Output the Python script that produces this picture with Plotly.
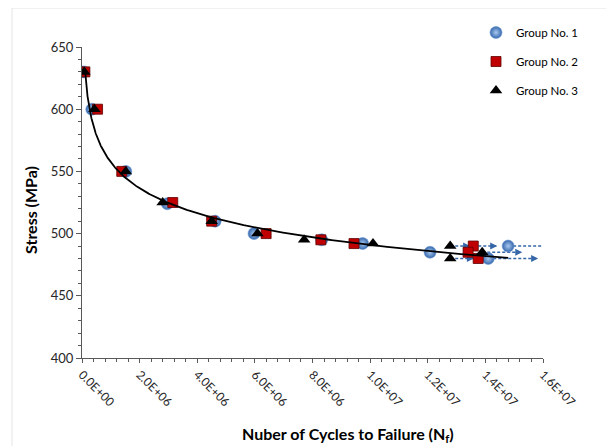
import numpy as np
import plotly.graph_objects as go

# ---------------- data ----------------
# Group No. 1 (failures)
g1_cycles = [0.06e6, 0.34e6, 1.52e6, 2.96e6, 4.62e6, 5.97e6, 8.32e6, 9.74e6, 12.08e6]
g1_stress = [630, 600, 550, 524, 510, 500, 495, 492, 485]
# Group No. 1 (run-outs)
g1_run_cycles = [14.79e6, 14.10e6]
g1_run_stress = [490, 480]
g1_run_end = [16.25e6, 15.83e6]

# Group No. 2 (failures)
g2_cycles = [0.10e6, 0.54e6, 1.38e6, 3.15e6, 4.50e6, 6.39e6, 8.29e6, 9.44e6]
g2_stress = [630, 600, 550, 525, 510, 500, 495, 492]
# Group No. 2 (run-outs)
g2_run_cycles = [13.58e6, 13.40e6, 13.75e6]
g2_run_stress = [490, 485, 480]
g2_run_end = [14.41e6, 13.40e6, 13.75e6]

# Group No. 3 (failures)
g3_cycles = [0.08e6, 0.43e6, 1.52e6, 2.80e6, 4.50e6, 6.09e6, 7.71e6, 10.10e6]
g3_stress = [630, 600, 550, 525, 510, 500, 495, 492]
# Group No. 3 (run-outs)
g3_run_cycles = [12.78e6, 13.89e6, 12.78e6]
g3_run_stress = [490, 485, 480]
g3_run_end = [13.47e6, 15.28e6, 13.60e6]

x_tick_vals = [0, 2e6, 4e6, 6e6, 8e6, 10e6, 12e6, 14e6, 16e6]
x_tick_text = ["0.0E+00", "2.0E+06", "4.0E+06", "6.0E+06", "8.0E+06",
               "1.0E+07", "1.2E+07", "1.4E+07", "1.6E+07"]
y_tick_vals = [400, 450, 500, 550, 600, 650]

# ---------------- power-law trendline fitted to the failure data ----------------
fail_n = np.array(g1_cycles + g2_cycles + g3_cycles)
fail_s = np.array(g1_stress + g2_stress + g3_stress)
all_n = np.array(g1_cycles + g2_cycles + g3_cycles + g1_run_cycles + g2_run_cycles + g3_run_cycles)
b, lnA = np.polyfit(np.log(fail_n), np.log(fail_s), 1)
fit_start = max(min(g1_cycles), min(g2_cycles), min(g3_cycles))
fit_n = np.geomspace(fit_start, all_n.max(), 300)
fit_s = np.exp(lnA) * fit_n ** b

# ---------------- page geometry (page has an 8px body margin) ----------------
OFF = 8
W, H = 614 - OFF, 446 - OFF
PL, PR, PT, PB = 82, 543, 47, 358          # plot area in window pixels
pw, ph = PR - PL, PB - PT


def px(xw):
    return (xw - PL) / pw


def py(yw):
    return (PB - yw) / ph


fig = go.Figure()

# run-out arrows (dashed lines + arrow heads)
arrow_color = "#3566a8"
ax_list, ay_list, hx, hy = [], [], [], []
for xs, ys, xe in [(g1_run_cycles, g1_run_stress, g1_run_end),
                   (g2_run_cycles, g2_run_stress, g2_run_end),
                   (g3_run_cycles, g3_run_stress, g3_run_end)]:
    for x0, y0, x1 in zip(xs, ys, xe):
        if x1 <= x0:
            continue
        ax_list += [x0, x1, None]
        ay_list += [y0, y0, None]
        hx.append(x1)
        hy.append(y0)

fig.add_trace(go.Scatter(x=ax_list, y=ay_list, mode="lines",
                         line=dict(color=arrow_color, width=1.4, dash="3px,2px"),
                         showlegend=False, hoverinfo="skip"))
fig.add_trace(go.Scatter(x=hx, y=hy, mode="markers",
                         marker=dict(symbol="arrow-right", size=7, color=arrow_color,
                                     line=dict(width=0)),
                         showlegend=False, hoverinfo="skip"))

circle_marker = dict(symbol="circle", size=12, color="#3567ab",
                     gradient=dict(type="radial", color="#a9c9f1"),
                     line=dict(width=0.6, color="#6f9bd6"))
square_marker = dict(symbol="square", size=10, color="#c00000",
                     line=dict(width=0.8, color="#600000"))
tri_marker = dict(symbol="triangle-up", size=11, color="#000000",
                  line=dict(width=0))

fig.add_trace(go.Scatter(x=g1_cycles + g1_run_cycles, y=g1_stress + g1_run_stress,
                         mode="markers", name="Group No. 1", legendgroup="g1",
                         marker=circle_marker))
fig.add_trace(go.Scatter(x=g2_cycles + g2_run_cycles, y=g2_stress + g2_run_stress,
                         mode="markers", name="Group No. 2", legendgroup="g2",
                         marker=square_marker))
fig.add_trace(go.Scatter(x=g3_cycles + g3_run_cycles, y=g3_stress + g3_run_stress,
                         mode="markers", name="Group No. 3", legendgroup="g3",
                         marker=tri_marker))

fig.add_trace(go.Scatter(x=fit_n, y=fit_s, mode="lines",
                         line=dict(color="#000000", width=1.8),
                         showlegend=False, hoverinfo="skip"))

axis_col = "#595959"
fig.update_xaxes(range=[0, 1.6e7], tickvals=x_tick_vals, ticktext=x_tick_text,
                 tickangle=45, ticks="outside", ticklen=4, tickcolor=axis_col,
                 showline=True, linecolor=axis_col, linewidth=1,
                 showgrid=False, zeroline=False, automargin=False,
                 tickfont=dict(family="Lato", size=12, color="#262626"),
                 minor=dict(dtick=4e5, ticks="outside", ticklen=3, tickcolor=axis_col))
fig.update_yaxes(range=[400, 650], tickvals=y_tick_vals, ticks="outside", ticklen=5,
                 tickcolor=axis_col, showline=True, linecolor=axis_col, linewidth=1,
                 showgrid=False, zeroline=False, automargin=False,
                 tickfont=dict(family="Lato", size=13, color="#262626"),
                 minor=dict(dtick=10, ticks="outside", ticklen=3, tickcolor=axis_col))

frame_col = "#e4e4e4"
fig.add_shape(type="line", xref="paper", yref="paper", x0=px(12), x1=px(640),
              y0=py(8), y1=py(8), line=dict(color=frame_col, width=1))
fig.add_shape(type="line", xref="paper", yref="paper", x0=px(12), x1=px(12),
              y0=py(8), y1=py(470), line=dict(color=frame_col, width=1))

fig.add_annotation(text="<b>Stress (MPa)</b>", xref="paper", yref="paper",
                   x=px(30), y=py(210), xanchor="center", yanchor="middle",
                   textangle=-90, showarrow=False,
                   font=dict(family="Lato", size=16, color="#000000"))
fig.add_annotation(text="<b>Nuber of Cycles to Failure (N<sub>f</sub>)</b>",
                   xref="paper", yref="paper", x=px(348), y=py(434),
                   xanchor="center", yanchor="middle", showarrow=False,
                   font=dict(family="Lato", size=16, color="#000000"))

fig.update_layout(
    width=W, height=H,
    margin=dict(l=PL - OFF, r=W - (PR - OFF), t=PT - OFF, b=H - (PB - OFF),
                autoexpand=False),
    paper_bgcolor="white", plot_bgcolor="white",
    showlegend=True,
    legend=dict(x=px(476), y=py(18), xanchor="left", yanchor="top",
                bgcolor="rgba(0,0,0,0)", borderwidth=0, tracegroupgap=10,
                font=dict(family="Lato", size=11.5, color="#000000"),
                itemwidth=30),
)

fig.write_html("out.html")
